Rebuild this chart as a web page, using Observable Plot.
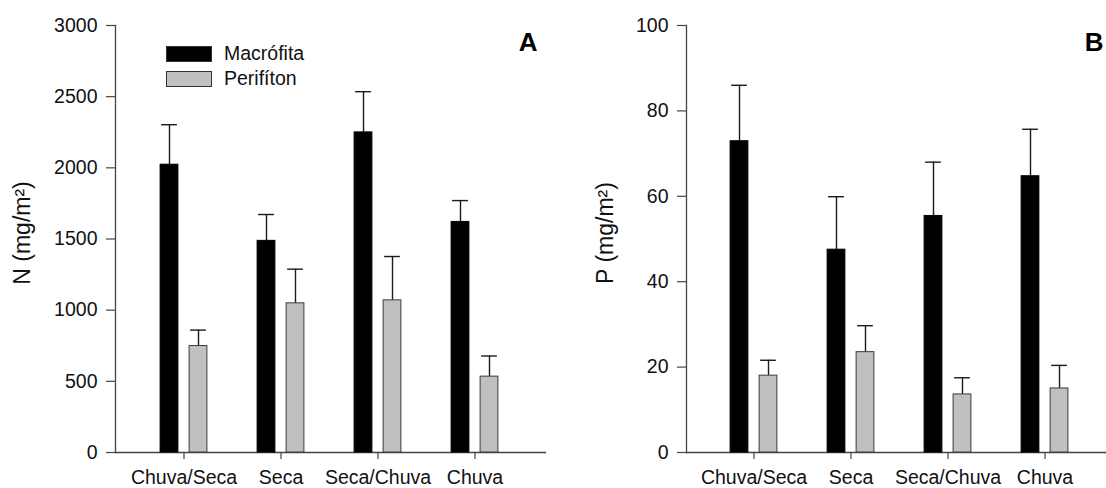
<!DOCTYPE html>
<html>
<head>
<meta charset="utf-8">
<script src="https://cdn.jsdelivr.net/npm/d3@7"></script>
<script src="https://cdn.jsdelivr.net/npm/@observablehq/plot@0.6"></script>
<style>
  html, body { margin: 0; padding: 0; background: #fff; }
  #fig { position: relative; width: 1106px; height: 488px; display: flex; font-family: "Liberation Sans", Arial, sans-serif; }
  #fig svg { overflow: visible; }
  .legend { position: absolute; left: 166px; top: 41px; font-size: 19.5px; color: #111; }
  .legend .row { display: flex; align-items: center; height: 25px; }
  .legend .sw { width: 44px; height: 14px; border: 1px solid #333; margin-right: 12px; }
</style>
</head>
<body>
<div id="fig"></div>
<script>
// Seasons and series
const seasons = ["Chuva/Seca", "Seca", "Seca/Chuva", "Chuva"];
const series = ["Macrófita", "Perifíton"];

// Nitrogen (mg/m²): means and standard errors
const nMacrofita = [2022, 1487, 2249, 1620];
const nMacrofitaSE = [281, 185, 286, 150];
const nPerifiton = [748, 1048, 1069, 533];
const nPerifitonSE = [112, 240, 308, 145];

// Phosphorus (mg/m²): means and standard errors
const pMacrofita = [72.9, 47.5, 55.4, 64.7];
const pMacrofitaSE = [13.1, 12.4, 12.6, 11.0];
const pPerifiton = [18.0, 23.5, 13.6, 15.0];
const pPerifitonSE = [3.6, 6.2, 3.9, 5.4];

// Axis ticks
const nTicks = [0, 500, 1000, 1500, 2000, 2500, 3000];
const pTicks = [0, 20, 40, 60, 80, 100];

const colors = {"Macrófita": "#000000", "Perifíton": "#c0c0c0"};
const strokes = {"Macrófita": "#000000", "Perifíton": "#3a3a3a"};
const offset = {"Macrófita": -14.5, "Perifíton": 14.5};

function rows(mac, macSE, per, perSE) {
  const out = [];
  seasons.forEach((s, i) => {
    out.push({season: s, series: "Macrófita", mean: mac[i], se: macSE[i]});
    out.push({season: s, series: "Perifíton", mean: per[i], se: perSE[i]});
  });
  return out;
}

function panel({data, ticks, yMax, yLabel, letter, width, marginLeft, marginRight, paddingOuter, align, letterDx, labelDx}) {
  const height = 488, marginTop = 25, marginBottom = 36;
  const step = (width - marginLeft - marginRight) / (seasons.length + 2 * paddingOuter);
  const barInset = (step - 18) / 2;
  const capInset = (step - 16) / 2;
  const marks = [];
  for (const s of series) {
    const d = data.filter(r => r.series === s);
    marks.push(
      Plot.ruleX(d, {x: "season", y1: "mean", y2: r => r.mean + r.se, dx: offset[s], stroke: "#1a1a1a", strokeWidth: 1.4}),
      Plot.tickY(d, {x: "season", y: r => r.mean + r.se, dx: offset[s], inset: capInset, stroke: "#1a1a1a", strokeWidth: 1.4}),
      Plot.barY(d, {x: "season", y: "mean", dx: offset[s], insetLeft: barInset, insetRight: barInset, fill: colors[s], stroke: strokes[s], strokeWidth: 1})
    );
  }
  return Plot.plot({
    width, height, marginLeft, marginRight, marginTop, marginBottom,
    style: {fontFamily: '"Liberation Sans", Arial, sans-serif', fontSize: "19.5px", color: "#111", background: "transparent"},
    x: {type: "band", domain: seasons, paddingInner: 0, paddingOuter, align},
    y: {domain: [0, yMax]},
    marks: [
      Plot.axisY({ticks, tickFormat: d3.format("d"), tickSize: 9, tickPadding: 9, label: null, stroke: "#444", strokeWidth: 1.2}),
      Plot.axisX({tickSize: 7, tickPadding: 11, label: null, stroke: "#444", strokeWidth: 1.2}),
      Plot.frame({anchor: "left", stroke: "#444", strokeWidth: 1.3}),
      Plot.ruleY([0], {stroke: "#444", strokeWidth: 1.3}),
      ...marks,
      Plot.text([yLabel], {text: d => d, frameAnchor: "left", textAnchor: "middle", dx: labelDx, dy: -6, rotate: -90, fontSize: 23, fill: "#111"}),
      Plot.text([letter], {text: d => d, frameAnchor: "top-right", textAnchor: "end", lineAnchor: "top", dx: letterDx, dy: 7, fontSize: 26, fontWeight: "bold", fill: "#000"})
    ]
  });
}

const fig = document.getElementById("fig");

fig.append(panel({
  data: rows(nMacrofita, nMacrofitaSE, nPerifiton, nPerifitonSE),
  ticks: nTicks, yMax: 3000, yLabel: "N (mg/m²)", letter: "A",
  width: 553, marginLeft: 115, marginRight: 7, paddingOuter: 0.217, align: 0.47,
  letterDx: -9, labelDx: -93
}));

fig.append(panel({
  data: rows(pMacrofita, pMacrofitaSE, pPerifiton, pPerifitonSE),
  ticks: pTicks, yMax: 100, yLabel: "P (mg/m²)", letter: "B",
  width: 553, marginLeft: 133, marginRight: 0, paddingOuter: 0.16, align: 0.6,
  letterDx: -3, labelDx: -81
}));

// Series legend for panel A
const legend = document.createElement("div");
legend.className = "legend";
for (const s of series) {
  const row = document.createElement("div");
  row.className = "row";
  const sw = document.createElement("div");
  sw.className = "sw";
  sw.style.background = colors[s];
  const label = document.createElement("span");
  label.textContent = s;
  row.append(sw, label);
  legend.append(row);
}
fig.append(legend);
</script>
</body>
</html>
